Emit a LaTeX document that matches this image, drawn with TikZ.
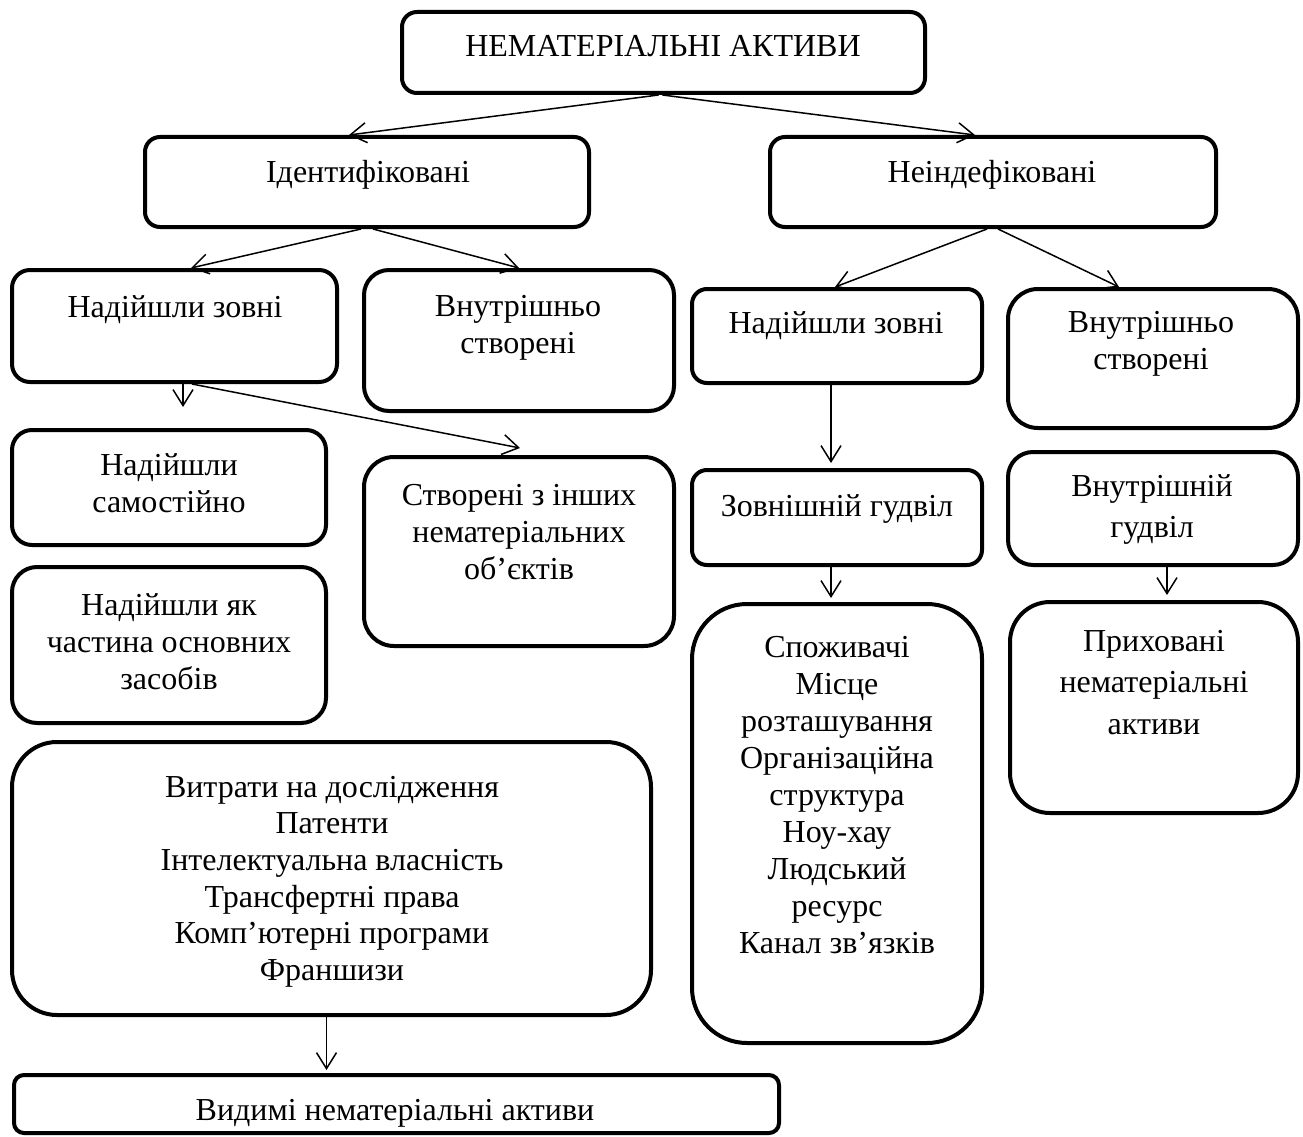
\documentclass[tikz,border=0pt]{standalone}
\usepackage{fontspec}
\setmainfont{Liberation Serif}
\usetikzlibrary{arrows.meta,calc}
\tikzset{
  box/.style={draw, line width=4pt, rounded corners=#1, inner sep=0pt},
  box/.default=15pt,
  txt/.style={font=\fontsize{32}{#1}\selectfont, align=center, inner sep=0pt, anchor=north,
    execute at begin node={\rule{0pt}{26pt}}},
  txt/.default=37,
  conn/.style={line width=1.5pt, -{Straight Barb[length=16pt,width=20pt,line width=1.5pt]}}
}
\begin{document}
\begin{tikzpicture}[x=1pt,y=-1pt]
\fill[white] (0,0) rectangle (1303,1137);
\useasboundingbox (0,0) rectangle (1303,1137);

% boxes
\node[box=15pt, minimum width=523pt, minimum height=81pt] (top) at (663.5,52.5) {};
\node[box=15pt, minimum width=444pt, minimum height=90pt] (ident) at (367,182) {};
\node[box=15pt, minimum width=446pt, minimum height=90pt] (neident) at (993,182) {};
\node[box=18pt, minimum width=325pt, minimum height=112pt] (Lzovni) at (174.5,326) {};
\node[box=25pt, minimum width=310pt, minimum height=141pt] (Lvnutr) at (519,340.5) {};
\node[box=20pt, minimum width=314pt, minimum height=115pt] (Lsamost) at (169,487.5) {};
\node[box=30pt, minimum width=310pt, minimum height=189pt] (Lstvor) at (519,551.5) {};
\node[box=25pt, minimum width=314pt, minimum height=156pt] (Lchast) at (169,645) {};
\node[box=45pt, minimum width=639pt, minimum height=273pt] (vytraty) at (331.5,878.5) {};
\node[box=10pt, minimum width=765pt, minimum height=58pt] (vydymi) at (396.5,1104) {};
\node[box=15pt, minimum width=290pt, minimum height=94pt] (Rzovni) at (837,336) {};
\node[box=30pt, minimum width=290pt, minimum height=139pt] (Rvnutr) at (1153,358.5) {};
\node[box=15pt, minimum width=290pt, minimum height=95pt] (zgud) at (837,517.5) {};
\node[box=25pt, minimum width=290pt, minimum height=113pt] (vgud) at (1153,508.5) {};
\node[box=55pt, minimum width=290pt, minimum height=439pt] (spoz) at (837,823.5) {};
\node[box=40pt, minimum width=288pt, minimum height=211pt] (pryh) at (1154,707.5) {};

% texts
\node[txt] (ttop) at (663,30) {НЕМАТЕРІАЛЬНІ АКТИВИ};
\node[txt] (tident) at (368,156) {Ідентифіковані};
\node[txt] (tneident) at (992,156) {Неіндефіковані};
\node[txt] (tLzovni) at (175,291) {Надійшли зовні};
\node[txt] (tLvnutr) at (518,295) {Внутрішньо\\створені};
\node[txt] (tLsamost) at (169,453) {Надійшли\\самостійно};
\node[txt] (tLstvor) at (519,484) {Створені з інших\\нематеріальних\\об’єктів};
\node[txt] (tLchast) at (169,593) {Надійшли як\\частина основних\\засобів};
\node[txt] (tRzovni) at (836,307) {Надійшли зовні};
\node[txt] (tRvnutr) at (1151,311) {Внутрішньо\\створені};
\node[txt] (tzgud) at (837,490) {Зовнішній гудвіл};
\node[txt=41] (tvgud) at (1152,474) {Внутрішній\\гудвіл};
\node[txt=41.5] (tpryh) at (1154,630) {Приховані\\нематеріальні\\активи};
\node[txt=37] (tspoz) at (837,636) {Споживачі\\Місце\\розташування\\Організаційна\\структура\\Ноу-хау\\Людський\\ресурс\\Канал зв’язків};
\node[txt=36.6] (tvytraty) at (332,776) {Витрати на дослідження\\Патенти\\Інтелектуальна власність\\Трансфертні права\\Комп’ютерні програми\\Франшизи};
\node[txt] (tvydymi) at (395,1094) {Видимі нематеріальні активи};

% connectors
\draw[conn] ([xshift=-5pt]top.south) -- ([xshift=-18pt]ident.north);
\draw[conn] ([xshift=-1pt]top.south) -- ([xshift=-18pt]neident.north);
\draw[conn] ([xshift=-6pt]ident.south) -- ([xshift=16.5pt]Lzovni.north);
\draw[conn] ([xshift=6pt]ident.south) -- (Lvnutr.north);
\draw[conn] ([xshift=-6pt]neident.south) -- ([xshift=-2pt]Rzovni.north);
\draw[conn] ([xshift=5pt]neident.south) -- ([xshift=-34pt]Rvnutr.north);
\draw[conn] ([xshift=8.5pt]Lzovni.south) -- ($(Lsamost.north)+(14,-21)$);
\draw[conn] ([xshift=17.5pt]Lzovni.south) -- ($(Lstvor.north)+(1,-7)$);
\draw[conn] ([xshift=-6pt]Rzovni.south) -- ($(zgud.north)+(-6,-5)$);
\draw[conn] ([xshift=-6pt]zgud.south) -- ($(spoz.north)+(-6,-4)$);
\draw[conn] ([xshift=14pt]vgud.south) -- ($(pryh.north)+(13,-5)$);
\draw[conn] ([xshift=-5pt]vytraty.south) -- ($(vydymi.north)+(-70,-3)$);
\end{tikzpicture}
\end{document}
